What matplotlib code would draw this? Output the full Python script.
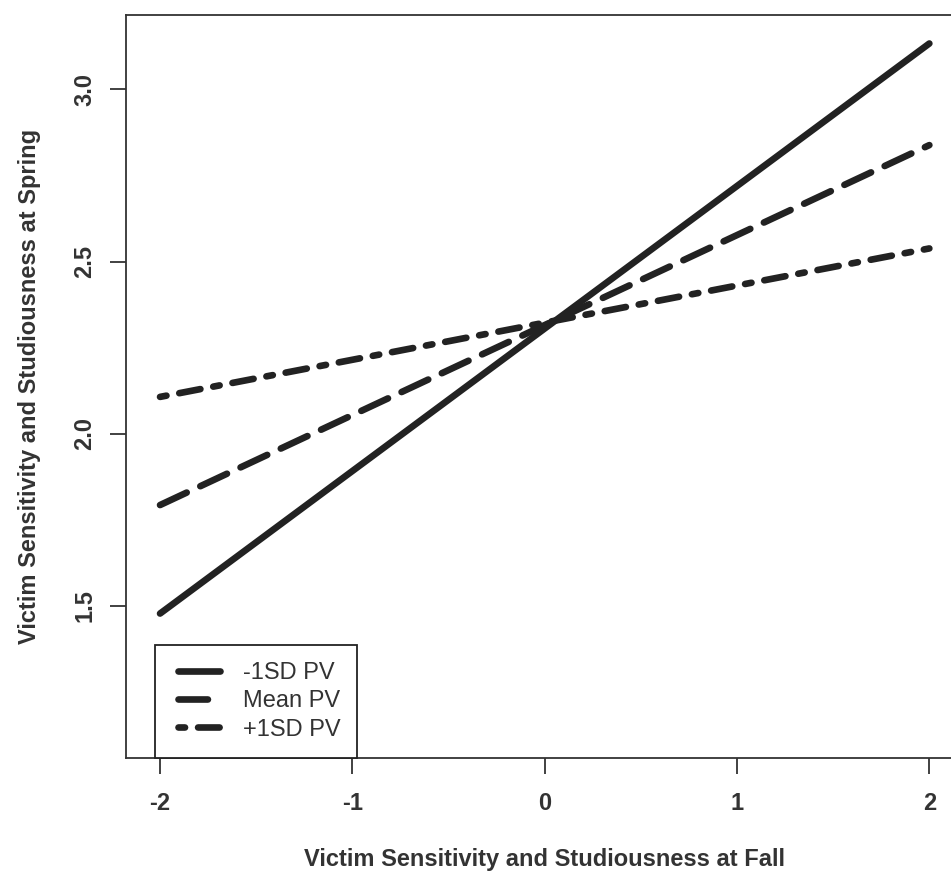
import matplotlib
matplotlib.use("Agg")
import matplotlib.pyplot as plt
from matplotlib.transforms import blended_transform_factory
from matplotlib.lines import Line2D
from matplotlib.legend_handler import HandlerLine2D

# Data
x_vals = [-2, 2]
low_pv = [1.478, 3.133]    # -1SD PV
mean_pv = [1.793, 2.838]   # Mean PV
high_pv = [2.107, 2.538]   # +1SD PV
series_labels = ["-1SD PV", "Mean PV", "+1SD PV"]
xticks = [-2, -1, 0, 1, 2]
yticks = [1.5, 2.0, 2.5, 3.0]
xlabel = "Victim Sensitivity and Studiousness at Fall"
ylabel = "Victim Sensitivity and Studiousness at Spring"

plt.rcParams['font.family'] = ['Liberation Sans', 'DejaVu Sans']
plt.rcParams['lines.scale_dashes'] = False

W, H = 951, 876
fig = plt.figure(figsize=(W / 100, H / 100), dpi=100)
# axes pixel bounds (right edge extends beyond figure, as in reference crop)
left_px, right_px, top_px, bottom_px = 126, 963.4, 14.7, 757.7
ax = fig.add_axes([left_px / W, 1 - bottom_px / H,
                   (right_px - left_px) / W, (bottom_px - top_px) / H])
ax.set_xlim(-2.177, 2.177)
ax.set_ylim(1.0595, 3.2166)

col = "#222222"
txtcol = "#333333"
lw = 4.8
ax.plot(x_vals, low_pv, color=col, lw=lw, solid_capstyle='round', label=series_labels[0])
ax.plot(x_vals, mean_pv, color=col, lw=lw, dashes=(21.2, 10.8), dash_capstyle='round',
        label=series_labels[1])
ax.plot(x_vals, high_pv, color=col, lw=lw, dashes=(4.7, 9.4, 15.5, 9.4), dash_capstyle='round',
        label=series_labels[2])

for s in ax.spines.values():
    s.set_color("#333333")
    s.set_linewidth(1.3)

FS = 17
ax.set_xticks(xticks)
ax.set_xticklabels([f"{v:g}" for v in xticks])
ax.set_yticks(yticks)
ax.set_yticklabels([f"{v:.1f}" for v in yticks], rotation=90, va='center')
ax.tick_params(axis='both', length=11.8, width=1.3, color="#333333", labelsize=FS,
               labelcolor=txtcol)
ax.tick_params(axis='x', pad=13)
ax.tick_params(axis='y', pad=9.4)
for t in ax.get_xticklabels() + ax.get_yticklabels():
    t.set_fontweight('bold')

ax.set_xlabel(xlabel, fontsize=FS, fontweight='bold', color=txtcol)
ax.set_ylabel(ylabel, fontsize=FS, fontweight='bold', color=txtcol)
ax.xaxis.set_label_coords(0.5, 1 - 848 / H,
                          transform=blended_transform_factory(ax.transAxes, fig.transFigure))
ax.yaxis.set_label_coords(30 / W, 0.5,
                          transform=blended_transform_factory(fig.transFigure, ax.transAxes))
ax.yaxis.label.set_va('center')

leg = ax.legend(loc='lower left', bbox_to_anchor=((155 - left_px) / (right_px - left_px), 0.0),
                borderaxespad=0, fontsize=FS, handlelength=2.02, handletextpad=0.975,
                labelspacing=0.27, borderpad=0.72, fancybox=False, framealpha=1,
                edgecolor="#222222",
                handler_map={Line2D: HandlerLine2D(xpad=0.27)})
leg.get_frame().set_linewidth(1.3)
for t in leg.get_texts():
    t.set_color(txtcol)

fig.savefig("out.png", dpi=100)
